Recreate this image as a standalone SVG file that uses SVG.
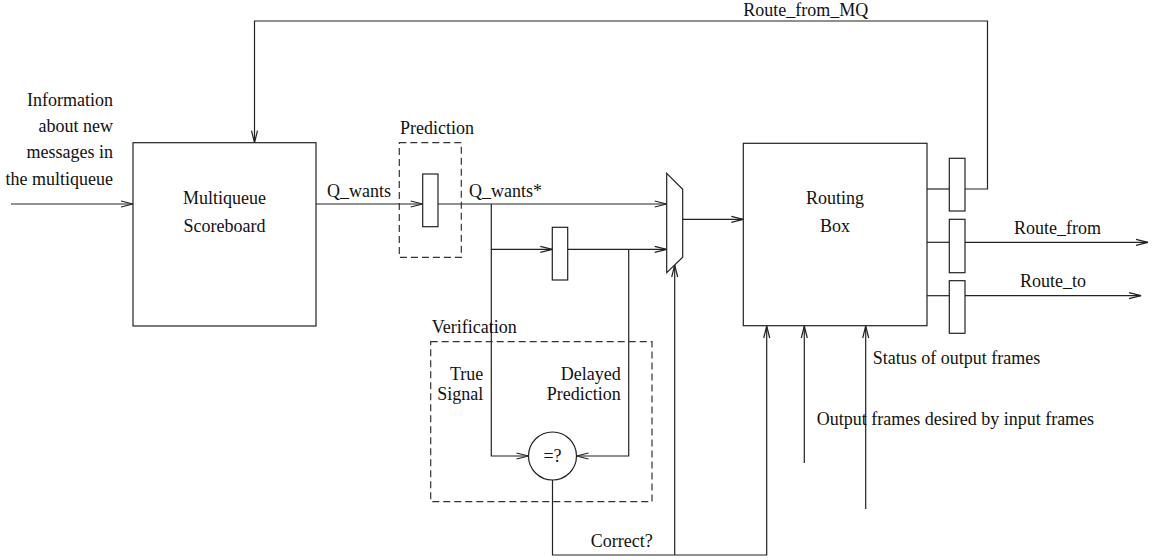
<svg xmlns="http://www.w3.org/2000/svg" width="1157" height="560" viewBox="0 0 1157 560">
<style>
text{font-family:"Liberation Serif","Times New Roman",serif;font-size:18px;fill:#111}
.box{fill:#fff;stroke:#222;stroke-width:1.2}
.ln{fill:none;stroke:#222;stroke-width:1.2}
.dash{fill:none;stroke:#333;stroke-width:1.2;stroke-dasharray:7,4}
.end{text-anchor:end}
.mid{text-anchor:middle}
</style>
<defs>
<marker id="arr" markerUnits="userSpaceOnUse" markerWidth="14" markerHeight="8" refX="12" refY="3" orient="auto" overflow="visible">
<path d="M0,0 L12,3 L0,6" fill="none" stroke="#222" stroke-width="1.2"/>
</marker>
</defs>

<g id="connectors">
<path class="ln" d="M11,204 H133" marker-end="url(#arr)"/>
<path class="ln" d="M965,189 H987.5 V21 H254.5 V142.7" marker-end="url(#arr)"/>
<path class="ln" d="M316,204 H422.7" marker-end="url(#arr)"/>
<path class="ln" d="M438,204 H666.7" marker-end="url(#arr)"/>
<path class="ln" d="M491.3,204 V249.3 H552.3" marker-end="url(#arr)"/>
<path class="ln" d="M491.3,249.3 V456 H528.5" marker-end="url(#arr)"/>
<path class="ln" d="M567.7,249.3 H666.7" marker-end="url(#arr)"/>
<path class="ln" d="M628.7,249.3 V456 H576.5" marker-end="url(#arr)"/>
<path class="ln" d="M682.7,219.3 H743.3" marker-end="url(#arr)"/>
<path class="ln" d="M552.5,480 V555 H766.7 V326" marker-end="url(#arr)"/>
<path class="ln" d="M674.7,555 V265" marker-end="url(#arr)"/>
<path class="ln" d="M804.3,463 V326" marker-end="url(#arr)"/>
<path class="ln" d="M865.7,509 V326" marker-end="url(#arr)"/>
<path class="ln" d="M927,189 H949.3"/>
<path class="ln" d="M927,242.3 H949.3"/>
<path class="ln" d="M927,295.7 H949.3"/>
<path class="ln" d="M965,242.3 H1148" marker-end="url(#arr)"/>
<path class="ln" d="M965,295.7 H1141" marker-end="url(#arr)"/>
</g>

<g id="input-label">
<text class="end" x="113" y="105.5">Information</text>
<text class="end" x="113" y="131.5">about new</text>
<text class="end" x="113" y="158">messages in</text>
<text class="end" x="113" y="184.5">the multiqueue</text>
</g>

<g id="multiqueue-scoreboard">
<rect class="box" x="133" y="142.7" width="183" height="183.3"/>
<text class="mid" x="224.5" y="204">Multiqueue</text>
<text class="mid" x="224.5" y="231.5">Scoreboard</text>
</g>

<g id="prediction">
<rect class="dash" x="399.3" y="142.7" width="62" height="114.6"/>
<text x="400" y="134">Prediction</text>
<rect class="box" x="422.7" y="174" width="15.3" height="52.7"/>
</g>

<g id="delay-register">
<rect class="box" x="552.3" y="227.3" width="15.4" height="52.7"/>
</g>

<g id="mux">
<path class="box" d="M666.7,173.3 L682.7,189.3 L682.7,257.3 L666.7,272.7 Z"/>
</g>

<g id="verification">
<rect class="dash" x="430.7" y="341.7" width="221.3" height="160"/>
<text x="431.7" y="333.3">Verification</text>
<text class="end" x="483.3" y="380">True</text>
<text class="end" x="483.3" y="399.5">Signal</text>
<text class="end" x="620.7" y="380">Delayed</text>
<text class="end" x="620.7" y="399.5">Prediction</text>
</g>

<g id="compare">
<circle class="box" cx="552.5" cy="456" r="24"/>
<text class="mid" x="552.5" y="462">=?</text>
</g>

<g id="routing-box">
<rect class="box" x="743.3" y="143.3" width="183.7" height="182.4"/>
<text class="mid" x="835" y="204">Routing</text>
<text class="mid" x="835" y="231.7">Box</text>
</g>

<g id="out-reg-1"><rect class="box" x="949.3" y="158.3" width="15.7" height="52.7"/></g>
<g id="out-reg-2"><rect class="box" x="949.3" y="219.3" width="15.7" height="53.4"/></g>
<g id="out-reg-3"><rect class="box" x="949.3" y="280.7" width="15.7" height="52.6"/></g>

<g id="labels">
<text x="743.3" y="16">Route_from_MQ</text>
<text x="327" y="197">Q_wants</text>
<text x="469" y="197">Q_wants*</text>
<text x="1014" y="234">Route_from</text>
<text x="1020" y="287.3">Route_to</text>
<text x="590.7" y="547">Correct?</text>
<text x="872.7" y="364">Status of output frames</text>
<text x="816.7" y="425">Output frames desired by input frames</text>
</g>
</svg>
